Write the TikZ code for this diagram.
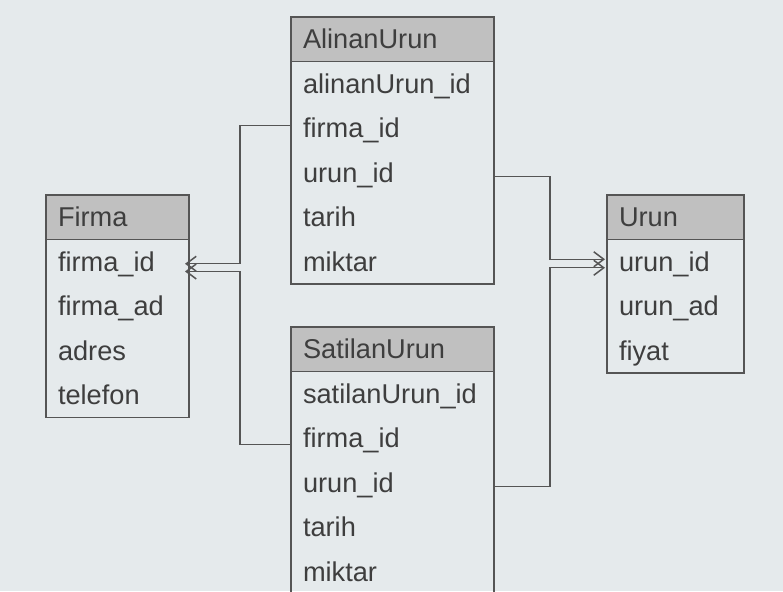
\documentclass[tikz,border=0pt]{standalone}
\usepackage{fontspec}
\setmainfont{Liberation Sans}
\usetikzlibrary{calc,arrows.meta}
\definecolor{bgc}{RGB}{229,234,236}
\definecolor{bordc}{RGB}{85,85,85}
\definecolor{hdrc}{RGB}{192,192,192}
\definecolor{txtc}{RGB}{62,62,62}
\tikzset{
  tbl/.style={minimum height=22.25pt, text width=#1,
    align=left, inner xsep=6pt, inner ysep=0pt, outer sep=0pt, anchor=north west,
    font=\fontsize{13.6}{15}\selectfont, text=txtc, text height=10pt, text depth=0.75pt},
  hdr/.style={tbl=#1, draw=bordc, line width=0.75pt, fill=hdrc},
  frame/.style={draw=bordc, line width=0.75pt},
  conn/.style={draw=bordc, line width=0.6pt, -{Straight Barb[length=5pt,width=7.5pt,line width=0.75pt]}},
}
\begin{document}
\begin{tikzpicture}[x=0.5pt,y=-0.5pt]
\useasboundingbox (0,0) rectangle (783,591);
\fill[bgc] (0,0) rectangle (783,591);
% Firma
\node[hdr=59.5pt] (fi) at (46,195) {Firma};
\node[tbl=59.5pt] (fi-id) at (46,239.5) {firma\_id};
\node[tbl=59.5pt] (fi-ad) at (46,284) {firma\_ad};
\node[tbl=59.5pt] (fi-adres) at (46,328.5) {adres};
\node[tbl=59.5pt] (fi-tel) at (46,373) {telefon};
\draw[frame] (fi.north west) rectangle (fi-tel.south east);
% AlinanUrun
\node[hdr=89.5pt] (au) at (291,17) {AlinanUrun};
\node[tbl=89.5pt] (au-id) at (291,61.5) {alinanUrun\_id};
\node[tbl=89.5pt] (au-firma) at (291,106) {firma\_id};
\node[tbl=89.5pt] (au-urun) at (291,150.5) {urun\_id};
\node[tbl=89.5pt] (au-tarih) at (291,195) {tarih};
\node[tbl=89.5pt] (au-miktar) at (291,239.5) {miktar};
\draw[frame] (au.north west) rectangle (au-miktar.south east);
% SatilanUrun
\node[hdr=89.5pt] (su) at (291,327) {SatilanUrun};
\node[tbl=89.5pt] (su-id) at (291,371.5) {satilanUrun\_id};
\node[tbl=89.5pt] (su-firma) at (291,416) {firma\_id};
\node[tbl=89.5pt] (su-urun) at (291,460.5) {urun\_id};
\node[tbl=89.5pt] (su-tarih) at (291,505) {tarih};
\node[tbl=89.5pt] (su-miktar) at (291,549.5) {miktar};
\draw[frame] (su.north west) rectangle (su-miktar.south east);
% Urun
\node[hdr=56.5pt] (ur) at (607,195) {Urun};
\node[tbl=56.5pt] (ur-id) at (607,239.5) {urun\_id};
\node[tbl=56.5pt] (ur-ad) at (607,284) {urun\_ad};
\node[tbl=56.5pt] (ur-fiyat) at (607,328.5) {fiyat};
\draw[frame] (ur.north west) rectangle (ur-fiyat.south east);
% connectors
\draw[conn] ($(au-firma.west)+(0,-3)$) -| ($(fi-id.east)+(51,2)$) -- ($(fi-id.east)+(-4,2)$);
\draw[conn] ($(su-firma.west)+(0,6.5)$) -| ($(fi-id.east)+(51,9.7)$) -- ($(fi-id.east)+(-4,9.7)$);
\draw[conn] ($(au-urun.east)+(0,4)$) -| ($(ur-id.west)+(-57,-2.5)$) -- ($(ur-id.west)+(-2,-2.5)$);
\draw[conn] ($(su-urun.east)+(0,4)$) -| ($(ur-id.west)+(-57,6)$) -- ($(ur-id.west)+(-2,6)$);
\end{tikzpicture}
\end{document}
